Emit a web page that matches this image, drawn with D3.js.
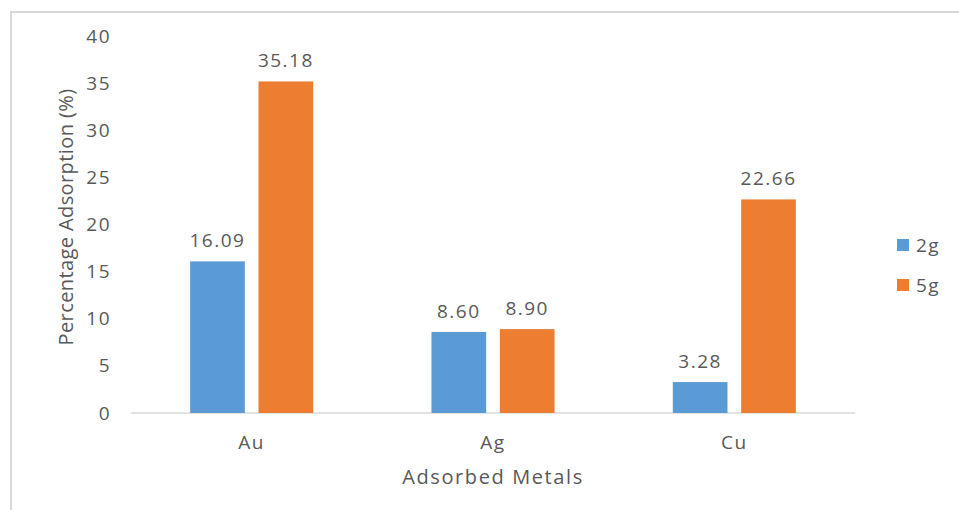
<!DOCTYPE html>
<html>
<head>
<meta charset="utf-8">
<script src="https://cdn.jsdelivr.net/npm/d3@7"></script>
<style>
  body { margin: 0; background: #fff; }
  text { font-family: "Open Sans", sans-serif; fill: #595959; }
</style>
</head>
<body>
<div id="chart"></div>
<script>
const metals = ["Au", "Ag", "Cu"];
const series = ["2g", "5g"];
const values2g = [16.09, 8.60, 3.28];
const values5g = [35.18, 8.90, 22.66];
const yTicks = [0, 5, 10, 15, 20, 25, 30, 35, 40];

const colors = { "2g": "#5b9bd5", "5g": "#ed7d31" };

const W = 959, H = 510;
const svg = d3.select("#chart").append("svg")
  .attr("width", W).attr("height", H);

// chart area border (only left/top visible in the crop)
svg.append("path")
  .attr("d", `M11,${H} L11,12 L${W},12`)
  .attr("fill", "none")
  .attr("stroke", "#d9d9d9")
  .attr("stroke-width", 2);

const plot = { left: 131, right: 855, top: 36, bottom: 413 };

const y = d3.scaleLinear().domain([0, 40]).range([plot.bottom, plot.top]);
const x0 = d3.scaleBand().domain(metals).range([plot.left, plot.right])
  .paddingInner(0.49).paddingOuter(0.245);
const x1 = d3.scaleBand().domain(series).range([0, x0.bandwidth()]).paddingInner(0.2);

const data = metals.map((m, i) => ({ metal: m, vals: [
  { s: "2g", v: values2g[i] }, { s: "5g", v: values5g[i] }
]}));

// y axis labels
const yAxis = svg.append("g")
  .attr("transform", `translate(${plot.left},0)`)
  .call(d3.axisLeft(y).tickValues(yTicks).tickSize(0).tickPadding(20));
yAxis.select(".domain").remove();
yAxis.selectAll("text")
  .style("font-size", "19px")
  .style("letter-spacing", "1.5px")
  .style("font-family", "Open Sans")
  .attr("fill", "#595959");

// baseline
svg.append("line")
  .attr("x1", plot.left).attr("x2", plot.right)
  .attr("y1", y(0)).attr("y2", y(0))
  .attr("stroke", "#d9d9d9").attr("stroke-width", 1.5);

const groups = svg.append("g").selectAll("g")
  .data(data).enter().append("g")
  .attr("transform", d => `translate(${x0(d.metal)},0)`);

groups.selectAll("rect")
  .data(d => d.vals).enter().append("rect")
  .attr("x", d => x1(d.s))
  .attr("width", x1.bandwidth())
  .attr("y", d => y(d.v))
  .attr("height", d => y(0) - y(d.v))
  .attr("fill", d => colors[d.s]);

groups.selectAll("text.lbl")
  .data(d => d.vals).enter().append("text")
  .attr("class", "lbl")
  .attr("x", d => x1(d.s) + x1.bandwidth() / 2)
  .attr("y", d => y(d.v) - 14)
  .attr("text-anchor", "middle")
  .style("font-size", "19px")
  .style("letter-spacing", "1.5px")
  .text(d => d.v.toFixed(2));

// x category labels
svg.append("g").selectAll("text")
  .data(metals).enter().append("text")
  .attr("x", d => x0(d) + x0.bandwidth() / 2)
  .attr("y", 449)
  .attr("text-anchor", "middle")
  .style("font-size", "19px")
  .style("letter-spacing", "1.5px")
  .text(d => d);

// axis titles
svg.append("text")
  .attr("x", 493).attr("y", 484)
  .attr("text-anchor", "middle")
  .style("font-size", "20px")
  .style("letter-spacing", "1.6px")
  .text("Adsorbed Metals");

svg.append("text")
  .attr("transform", "translate(73,217) rotate(-90)")
  .attr("text-anchor", "middle")
  .style("font-size", "20px")
  .style("letter-spacing", "0.4px")
  .text("Percentage Adsorption (%)");

// legend
const legend = svg.append("g").selectAll("g")
  .data(series).enter().append("g")
  .attr("transform", (d, i) => `translate(897,${239 + i * 40})`);
legend.append("rect").attr("width", 12).attr("height", 12)
  .attr("fill", d => colors[d]);
legend.append("text").attr("x", 19).attr("y", 13)
  .style("font-size", "19px")
  .style("letter-spacing", "1.5px")
  .text(d => d);
</script>
</body>
</html>
